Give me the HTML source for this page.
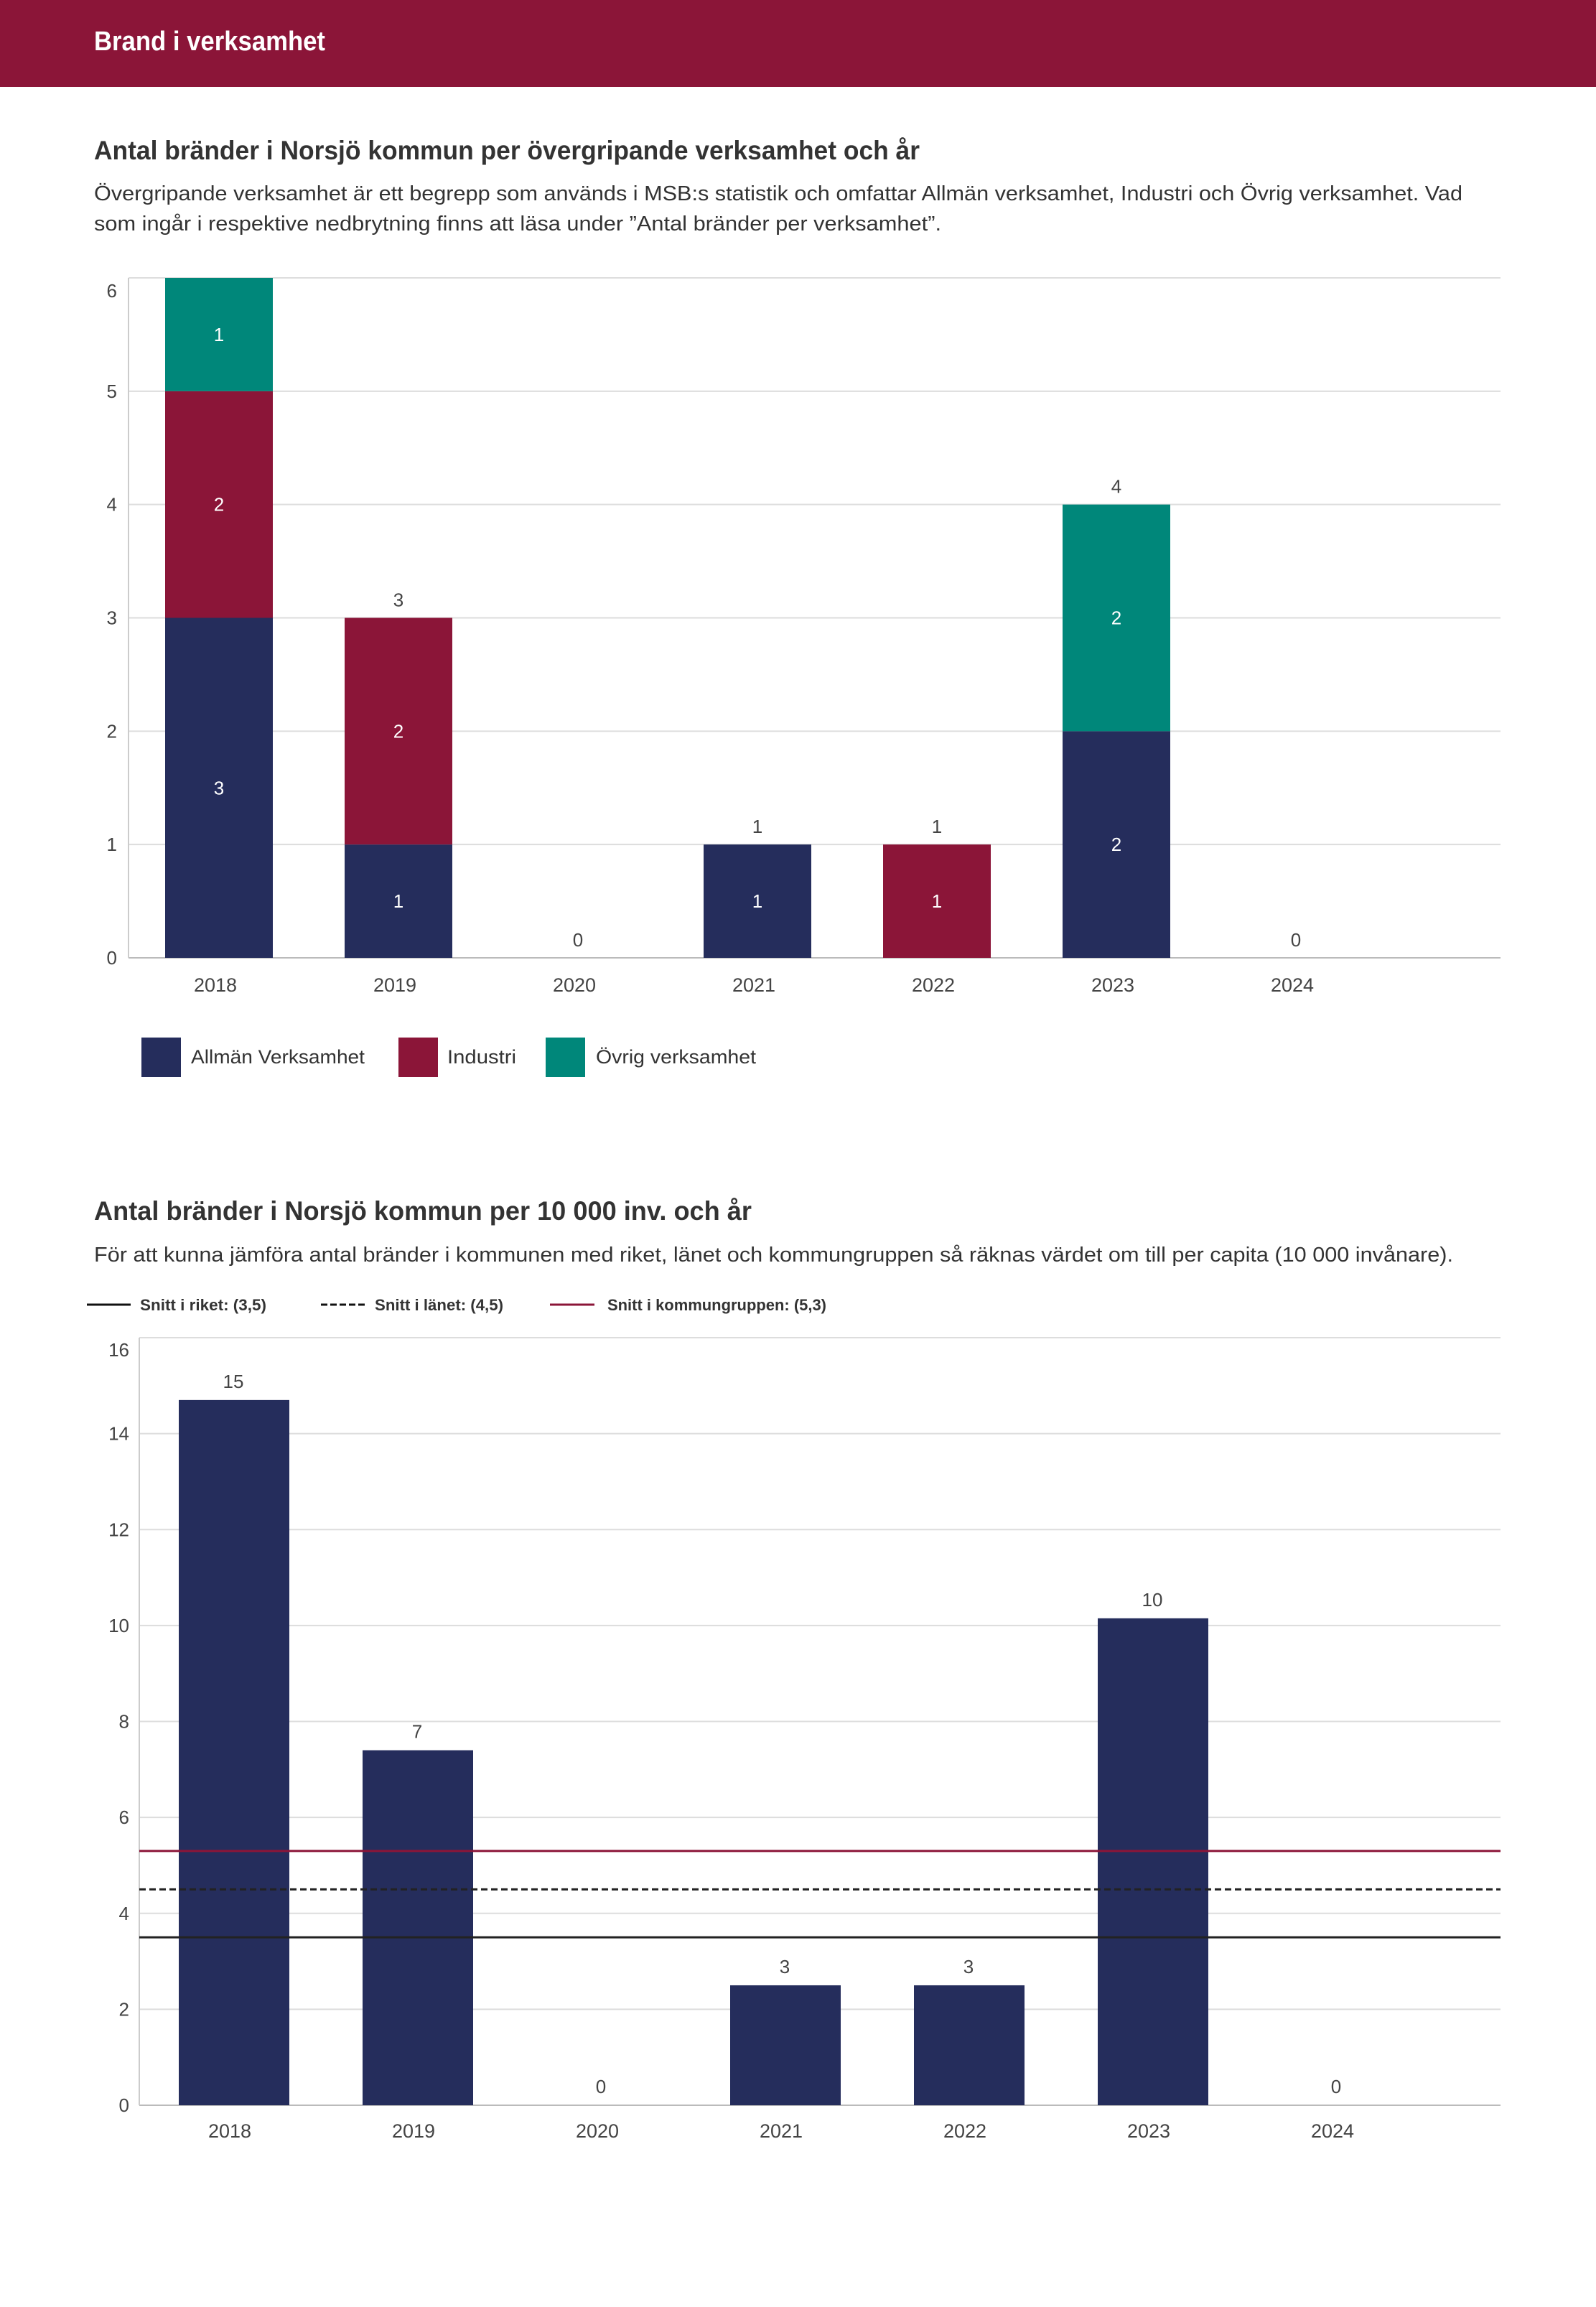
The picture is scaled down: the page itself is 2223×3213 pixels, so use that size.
<!DOCTYPE html>
<html><head><meta charset="utf-8"><style>
html,body{margin:0;padding:0;background:#fff;}
svg{display:block;font-family:"Liberation Sans",sans-serif;}
</style></head><body>
<svg width="2223" height="3213" viewBox="0 0 2223 3213" xmlns="http://www.w3.org/2000/svg">
<rect x="0" y="0" width="2223" height="121" fill="#8b1538"/>
<text x="131" y="70" font-size="38" font-weight="bold" fill="#fff" textLength="322" lengthAdjust="spacingAndGlyphs">Brand i verksamhet</text>

<text x="131" y="222" font-size="37" font-weight="bold" fill="#333" textLength="1150" lengthAdjust="spacingAndGlyphs">Antal bränder i Norsjö kommun per övergripande verksamhet och år</text>
<text x="131" y="279" font-size="29" fill="#333" textLength="1906" lengthAdjust="spacingAndGlyphs">Övergripande verksamhet är ett begrepp som används i MSB:s statistik och omfattar Allmän verksamhet, Industri och Övrig verksamhet. Vad</text>
<text x="131" y="321" font-size="29" fill="#333" textLength="1180" lengthAdjust="spacingAndGlyphs">som ingår i respektive nedbrytning finns att läsa under ”Antal bränder per verksamhet”.</text>

<g id="chart1"></g>

<rect x="197" y="1445" width="55" height="55" fill="#252d5c"/>
<text x="266" y="1481" font-size="27" fill="#333" textLength="242" lengthAdjust="spacingAndGlyphs">Allmän Verksamhet</text>
<rect x="555" y="1445" width="55" height="55" fill="#8b1538"/>
<text x="623" y="1481" font-size="27" fill="#333" textLength="96" lengthAdjust="spacingAndGlyphs">Industri</text>
<rect x="760" y="1445" width="55" height="55" fill="#00877a"/>
<text x="830" y="1481" font-size="27" fill="#333" textLength="223" lengthAdjust="spacingAndGlyphs">Övrig verksamhet</text>

<text x="131" y="1699" font-size="37" font-weight="bold" fill="#333" textLength="916" lengthAdjust="spacingAndGlyphs">Antal bränder i Norsjö kommun per 10 000 inv. och år</text>
<text x="131" y="1757" font-size="29" fill="#333" textLength="1893" lengthAdjust="spacingAndGlyphs">För att kunna jämföra antal bränder i kommunen med riket, länet och kommungruppen så räknas värdet om till per capita (10 000 invånare).</text>

<line x1="121" y1="1817" x2="182" y2="1817" stroke="#111" stroke-width="3"/>
<text x="195" y="1825" font-size="22" font-weight="bold" fill="#333" textLength="176" lengthAdjust="spacingAndGlyphs">Snitt i riket: (3,5)</text>
<line x1="447" y1="1817" x2="508" y2="1817" stroke="#111" stroke-width="3" stroke-dasharray="9,4"/>
<text x="522" y="1825" font-size="22" font-weight="bold" fill="#333" textLength="179" lengthAdjust="spacingAndGlyphs">Snitt i länet: (4,5)</text>
<line x1="766" y1="1817" x2="828" y2="1817" stroke="#8b1538" stroke-width="3"/>
<text x="846" y="1825" font-size="22" font-weight="bold" fill="#333" textLength="305" lengthAdjust="spacingAndGlyphs">Snitt i kommungruppen: (5,3)</text>

<g id="chart2"></g>
</svg>
<script>
const years = ["2018","2019","2020","2021","2022","2023","2024"];
const allman = [3,1,0,1,0,2,0];
const industri = [2,2,0,0,1,0,0];
const ovrig = [1,0,0,0,0,2,0];
const ticks1 = [0,1,2,3,4,5,6];
const perCapita = [14.7,7.4,0,2.5,2.5,10.15,0];
const perCapitaLabels = ["15","7","0","3","3","10","0"];
const ticks2 = [0,2,4,6,8,10,12,14,16];
const avgRiket = 3.5;
const avgLanet = 4.5;
const avgKommungrupp = 5.3;

const NS = "http://www.w3.org/2000/svg";
function mk(tag, attrs, parent, txt){
  const e = document.createElementNS(NS, tag);
  for (const k in attrs) e.setAttribute(k, attrs[k]);
  if (txt !== undefined) e.textContent = txt;
  parent.appendChild(e);
  return e;
}

// Chart 1
(function(){
  const g = document.getElementById("chart1");
  const left=179, right=2090, top=387, bottom=1334, maxV=6, band=250, bw=150;
  const y = v => bottom - v/maxV*(bottom-top);
  const xc = i => left + band/2 + i*band + 1;
  const maxT = ticks1[ticks1.length-1];
  ticks1.forEach(t=>{
    const l = mk("line",{x1:left,x2:right,y1:y(t),y2:y(t),stroke:t===0?"#bbb":"#ddd","stroke-width":2},g);
    
    
    const tx = mk("text",{x:163,y:y(t)+(t===maxT?27:9),"font-size":26,fill:"#444","text-anchor":"end"},g,String(t));
    
    
  });
  const ax = mk("line",{x1:left,x2:left,y1:top,y2:bottom,stroke:"#ccc","stroke-width":2},g);
  
  
  const series=[[allman,"#252d5c"],[industri,"#8b1538"],[ovrig,"#00877a"]];
  years.forEach((yr,i)=>{
    let base=0;
    series.forEach(([arr,col])=>{
      const v=arr[i];
      if(v>0){
        const r = mk("rect",{x:xc(i)-bw/2,y:y(base+v),width:bw,height:y(base)-y(base+v),fill:col},g);
        
        
        const t = mk("text",{x:xc(i),y:(y(base)+y(base+v))/2+9,"font-size":26,fill:"#fff","text-anchor":"middle"},g,String(v));
        
        
      }
      base+=v;
    });
    const tot = allman[i]+industri[i]+ovrig[i];
    if(tot<6){
      const t = mk("text",{x:xc(i),y:y(tot)-16,"font-size":26,fill:"#444","text-anchor":"middle"},g,String(tot));
      
      
    }
    const xl = mk("text",{x:xc(i)-5,y:1381,"font-size":27,fill:"#444","text-anchor":"middle"},g,yr);
    
    
  });
})();

// Chart 2
(function(){
  const g = document.getElementById("chart2");
  const left=194, right=2090, top=1863, bottom=2932, maxV=16, band=256, bw=154;
  const y = v => bottom - v/maxV*(bottom-top);
  const xc = i => left + 132 + i*band;
  const maxT = ticks2[ticks2.length-1];
  ticks2.forEach(t=>{
    const l = mk("line",{x1:left,x2:right,y1:y(t),y2:y(t),stroke:t===0?"#bbb":"#ddd","stroke-width":2},g);
    
    
    const tx = mk("text",{x:180,y:y(t)+(t===maxT?26:9),"font-size":26,fill:"#444","text-anchor":"end"},g,String(t));
    
    
  });
  const ax = mk("line",{x1:left,x2:left,y1:top,y2:bottom,stroke:"#ccc","stroke-width":2},g);
  
  
  years.forEach((yr,i)=>{
    const v = perCapita[i];
    if(v>0){
      const r = mk("rect",{x:xc(i)-bw/2,y:y(v),width:bw,height:bottom-y(v),fill:"#252d5c"},g);
      
      
    }
    const t = mk("text",{x:xc(i)-1,y:y(v)-17,"font-size":26,fill:"#444","text-anchor":"middle"},g,perCapitaLabels[i]);
    
    
    const xl = mk("text",{x:xc(i)-6,y:2977,"font-size":27,fill:"#444","text-anchor":"middle"},g,yr);
    
    
  });
  const l1 = mk("line",{x1:left,x2:right,y1:y(avgKommungrupp),y2:y(avgKommungrupp),stroke:"#8b1538","stroke-width":3},g);
  
  
  const l2 = mk("line",{x1:left,x2:right,y1:y(avgLanet),y2:y(avgLanet),stroke:"#222","stroke-width":3,"stroke-dasharray":"9,5"},g);
  
  
  const l3 = mk("line",{x1:left,x2:right,y1:y(avgRiket),y2:y(avgRiket),stroke:"#222","stroke-width":3},g);
  
  
})();
</script>
</body></html>
